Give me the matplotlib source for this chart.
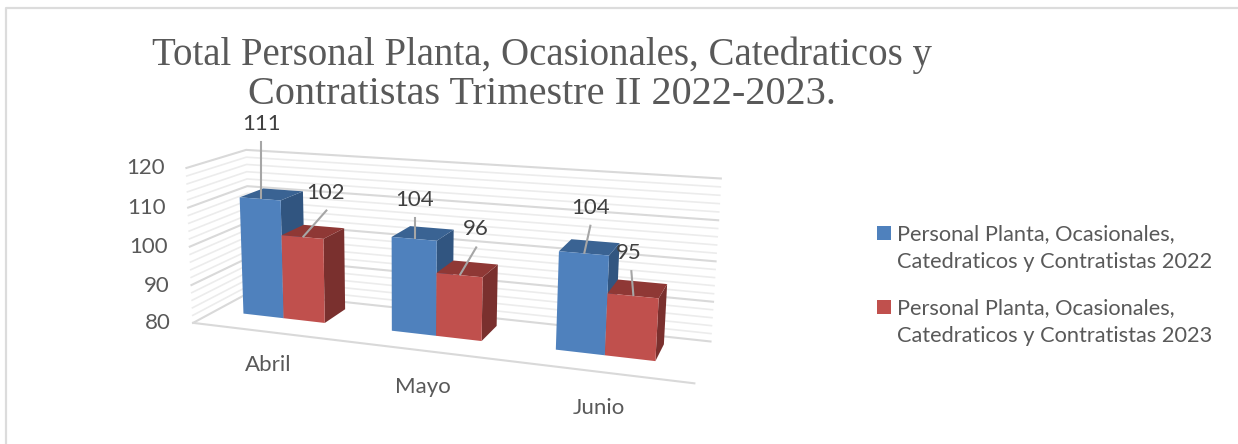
import numpy as np
import matplotlib
matplotlib.use('Agg')
import matplotlib.pyplot as plt
from matplotlib.patches import Polygon, Rectangle

plt.rcParams['font.family'] = 'Lato'

months = ['Abril', 'Mayo', 'Junio']
series_names = ['Personal Planta, Ocasionales,\nCatedraticos y Contratistas 2022',
                'Personal Planta, Ocasionales,\nCatedraticos y Contratistas 2023']
values_2022 = [111, 104, 104]
values_2023 = [102, 96, 95]
y_ticks = [80, 90, 100, 110, 120]
title_lines = ['Total Personal Planta, Ocasionales, Catedraticos y',
               'Contratistas Trimestre II 2022-2023.']

W, H = 1238, 444
Y0, Y1 = 80, 120
BAR_W = 0.28
BAR_SHIFT = -0.025
D0, D1 = 0.38, 0.8

# box corners (category pos, depth, value) -> pixel, used to fit the camera
world = [(0, 0, Y0), (3, 0, Y0), (3, 1, Y0), (0, 1, Y0), (0, 0, Y1), (0, 1, Y1), (3, 1, Y1), (3, 0, Y1)]
pixel = [(196, 320), (697, 384), (709, 340), (247, 295), (183, 166), (250, 151), (722, 175), (703, 208)]


def fit_camera(world, pixel):
    rows = []
    for (a, b, c), (x, y) in zip(world, pixel):
        p = [a, b, (c - Y0) / (Y1 - Y0), 1]
        rows.append(p + [0, 0, 0, 0] + [-x * q for q in p])
        rows.append([0, 0, 0, 0] + p + [-y * q for q in p])
    return np.linalg.svd(np.array(rows))[2][-1].reshape(3, 4)


cam = fit_camera(world, pixel)


def proj(a, b, c):
    r = cam @ np.array([a, b, (c - Y0) / (Y1 - Y0), 1])
    return r[0] / r[2], r[1] / r[2]


fig = plt.figure(figsize=(W / 100, H / 100), dpi=100)
ax = fig.add_axes([0, 0, 1, 1])
ax.set_xlim(0, W)
ax.set_ylim(H, 0)
ax.axis('off')

# outer frame, open on the right and at the bottom
ax.plot([5.5, 5.5, W], [H, 8, 8], color='#dcdcdc', lw=1.6)

# gridlines, minor ones every 2
for v in np.arange(Y0, Y1 + 1, 2):
    major = v % 10 == 0
    col = '#d9d9d9' if major else '#ececec'
    lw = 1.5 if major else 1.2
    ax.plot(*zip(proj(0, 0, v), proj(0, 1, v), proj(3, 1, v)), color=col, lw=lw, zorder=1)
ax.plot(*zip(proj(0, 0, Y0), proj(3, 0, Y0)), color='#d9d9d9', lw=1.5, zorder=1)

for v in y_ticks:
    x, y = proj(0, 0, v)
    ax.text(x - 22, y + 0.5, str(v), ha='right', va='center', fontsize=16, color='#595959')


def bar(u, val, front, side, top, z):
    u1 = u + BAR_W
    ax.add_patch(Polygon([proj(u1, D0, Y0), proj(u1, D1, Y0), proj(u1, D1, val), proj(u1, D0, val)],
                         fc=side, ec='none', zorder=z))
    ax.add_patch(Polygon([proj(u, D0, val), proj(u1, D0, val), proj(u1, D1, val), proj(u, D1, val)],
                         fc=top, ec='none', zorder=z))
    ax.add_patch(Polygon([proj(u, D0, Y0), proj(u1, D0, Y0), proj(u1, D0, val), proj(u, D0, val)],
                         fc=front, ec='none', zorder=z + 0.5))


# label placement relative to the top of the bar, in pixels: dx, dy, dx of leader end
offs_2022 = [(0, -74, 0), (0, -38, 0), (6, -45, 0)]
offs_2023 = [(22, -44, 1), (16, -45, 0), (-5, -42, 3)]
month_dy = [33, 36, 36]
month_dx = [2, -1, 0]

for i, month in enumerate(months):
    c = i + 0.5 + BAR_SHIFT
    bar(c - BAR_W, values_2022[i], '#4f81bd', '#315580', '#3a6393', 2 + i)
    bar(c, values_2023[i], '#c0504d', '#7a302e', '#8f3835', 2.2 + i)
    x, y = proj(i + 0.5, 0, Y0)
    ax.text(x + month_dx[i], y + month_dy[i], month, ha='center', va='center', fontsize=16, color='#595959')
    for u, val, off in [(c - BAR_W / 2, values_2022[i], offs_2022[i]), (c + BAR_W / 2, values_2023[i], offs_2023[i])]:
        px, py = proj(u, D0 + 0.02, val)
        ax.plot([px, px + off[0] + off[2]], [py, py + off[1] + 18], color='#a6a6a6', lw=1.5, zorder=8)
        ax.text(px + off[0], py + off[1], str(val), ha='center', va='center', fontsize=16, color='#404040', zorder=9)

ax.text(542, 55, title_lines[0], ha='center', va='center', fontsize=28, color='#595959', family='Liberation Serif')
ax.text(542, 95, title_lines[1], ha='center', va='center', fontsize=29, color='#595959', family='Liberation Serif')

for y, name, col in [(233, series_names[0], '#4f81bd'), (307, series_names[1], '#c0504d')]:
    ax.add_patch(Rectangle((877, y - 7), 14, 14, fc=col, ec='none'))
    ax.text(897, y + 15, name, ha='left', va='center', fontsize=15.65, color='#595959', linespacing=1.5)

fig.savefig('out.png', dpi=100)
